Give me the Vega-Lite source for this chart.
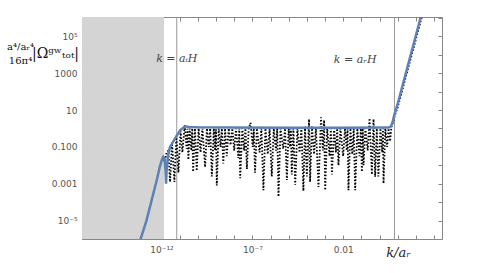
{
  "$schema": "https://vega.github.io/schema/vega-lite/v6.json",
  "width": 360,
  "height": 222,
  "autosize": {"type": "none"},
  "padding": {"left": 82, "top": 17, "right": 43, "bottom": 34},
  "background": "white",
  "config": {
    "view": {"stroke": "#888", "strokeWidth": 1},
    "axis": {"domain": false, "grid": false, "tickColor": "#888", "tickSize": -4, "labelFont": "DejaVu Sans", "labelFontSize": 9, "labelColor": "#555", "labelOverlap": false, "labelFlush": false}
  },
  "datasets": {
    "omega": [
      {"k": 5.62e-14, "v": 3.98e-7}, {"k": 7.08e-14, "v": 1e-6}, {"k": 1.51e-13, "v": 1.07e-5},
      {"k": 5.5e-13, "v": 0.00158}, {"k": 7.94e-13, "v": 0.00794}, {"k": 1.05e-12, "v": 0.02},
      {"k": 1.26e-12, "v": 0.0282}, {"k": 1.48e-12, "v": 0.0224}, {"k": 1.66e-12, "v": 0.00501},
      {"k": 1.78e-12, "v": 0.001}, {"k": 1.91e-12, "v": 0.00501}, {"k": 2.24e-12, "v": 0.0316},
      {"k": 2.95e-12, "v": 0.1}, {"k": 5.5e-12, "v": 0.282}, {"k": 1.05e-11, "v": 0.794},
      {"k": 2.0e-11, "v": 1.32}, {"k": 3.16e-11, "v": 1.2}, {"k": 1e-10, "v": 1.15},
      {"k": 1e-8, "v": 1.12}, {"k": 1e-5, "v": 1.1}, {"k": 0.01, "v": 1.1},
      {"k": 3.16, "v": 1.12}, {"k": 4.17, "v": 1.26}, {"k": 5.25, "v": 2.24},
      {"k": 6.46, "v": 5.25}, {"k": 9.55, "v": 18.2}, {"k": 190.5, "v": 1.2e6}, {"k": 354.8, "v": 1.26e7}
    ],
    "partial": [
      {"k": 1.2e-12, "v": 0.0316}, {"k": 1.48e-12, "v": 0.0158}, {"k": 1.91e-12, "v": 0.05}, {"k": 2.4e-12, "v": 0.063},
      {"k": 2.95e-12, "v": 0.00126}, {"k": 3.8e-12, "v": 0.158}, {"k": 5.13e-12, "v": 0.00126}, {"k": 6.6e-12, "v": 0.398},
      {"k": 8.5e-12, "v": 0.00398}, {"k": 1.12e-11, "v": 0.708}, {"k": 1.41e-11, "v": 0.05}, {"k": 1.9e-11, "v": 1.58},
      {"k": 2.4e-11, "v": 0.079}, {"k": 2.69e-11, "v": 0.955}, {"k": 3.02e-11, "v": 0.02}, {"k": 3.55e-11, "v": 1.0},
      {"k": 4.37e-11, "v": 0.063}, {"k": 4.9e-11, "v": 1.0}, {"k": 5.5e-11, "v": 0.00447}, {"k": 6.92e-11, "v": 1.0},
      {"k": 8.71e-11, "v": 0.005}, {"k": 1.1e-10, "v": 1.0}, {"k": 1.41e-10, "v": 0.05}, {"k": 1.78e-10, "v": 1.0},
      {"k": 2.51e-10, "v": 0.00794}, {"k": 3.16e-10, "v": 1.0}, {"k": 3.98e-10, "v": 0.1}, {"k": 4.79e-10, "v": 1.0},
      {"k": 5.89e-10, "v": 0.0025}, {"k": 7.59e-10, "v": 1.0}, {"k": 8.91e-10, "v": 0.063}, {"k": 1e-9, "v": 0.89},
      {"k": 1.1e-9, "v": 0.000794}, {"k": 1.41e-9, "v": 1.0}, {"k": 1.78e-9, "v": 0.1}, {"k": 2.09e-9, "v": 1.0},
      {"k": 2.51e-9, "v": 0.0126}, {"k": 3.16e-9, "v": 1.0}, {"k": 3.89e-9, "v": 0.0316}, {"k": 5.01e-9, "v": 1.0},
      {"k": 6.31e-9, "v": 0.126}, {"k": 7.94e-9, "v": 1.0}, {"k": 1e-8, "v": 0.063}, {"k": 1.26e-8, "v": 1.0},
      {"k": 1.7e-8, "v": 0.025}, {"k": 1.91e-8, "v": 1.0}, {"k": 2.14e-8, "v": 0.002}, {"k": 2.82e-8, "v": 1.0},
      {"k": 3.55e-8, "v": 0.063}, {"k": 4.17e-8, "v": 1.0}, {"k": 5.01e-8, "v": 0.00631}, {"k": 6.31e-8, "v": 1.0},
      {"k": 7.94e-8, "v": 2.0}, {"k": 1.05e-7, "v": 0.1}, {"k": 1.2e-7, "v": 1.0}, {"k": 1.41e-7, "v": 0.00398},
      {"k": 1.78e-7, "v": 1.0}, {"k": 2.51e-7, "v": 0.05}, {"k": 3.16e-7, "v": 1.0}, {"k": 4.07e-7, "v": 0.000447},
      {"k": 5.25e-7, "v": 1.0}, {"k": 7.08e-7, "v": 0.04}, {"k": 8.91e-7, "v": 1.0}, {"k": 1.17e-6, "v": 0.0025},
      {"k": 1.51e-6, "v": 1.0}, {"k": 2.0e-6, "v": 0.063}, {"k": 2.34e-6, "v": 1.0}, {"k": 2.75e-6, "v": 0.0002},
      {"k": 3.55e-6, "v": 1.0}, {"k": 5.01e-6, "v": 0.079}, {"k": 6.31e-6, "v": 1.0}, {"k": 7.94e-6, "v": 0.00158},
      {"k": 1e-5, "v": 1.0}, {"k": 1.2e-5, "v": 0.1}, {"k": 1.32e-5, "v": 1.0}, {"k": 1.48e-5, "v": 0.00316},
      {"k": 1.82e-5, "v": 1.0}, {"k": 2.29e-5, "v": 0.00085}, {"k": 3.02e-5, "v": 1.0}, {"k": 3.98e-5, "v": 0.05},
      {"k": 5.01e-5, "v": 1.12}, {"k": 6.46e-5, "v": 0.000398}, {"k": 7.94e-5, "v": 1.26}, {"k": 1e-4, "v": 0.0025},
      {"k": 1.32e-4, "v": 3.16}, {"k": 1.51e-4, "v": 0.00126}, {"k": 1.91e-4, "v": 1.26}, {"k": 2.51e-4, "v": 0.04},
      {"k": 3.16e-4, "v": 1.0}, {"k": 4.37e-4, "v": 0.000676}, {"k": 6.03e-4, "v": 3.98}, {"k": 7.59e-4, "v": 0.063},
      {"k": 8.91e-4, "v": 2.82}, {"k": 1.02e-3, "v": 0.000447}, {"k": 1.32e-3, "v": 1.0}, {"k": 1.78e-3, "v": 0.0316},
      {"k": 2.09e-3, "v": 1.0}, {"k": 2.4e-3, "v": 0.00316}, {"k": 3.16e-3, "v": 1.0}, {"k": 3.98e-3, "v": 0.05},
      {"k": 4.68e-3, "v": 1.0}, {"k": 5.5e-3, "v": 0.01}, {"k": 7.08e-3, "v": 1.0}, {"k": 0.01, "v": 0.0316},
      {"k": 0.0126, "v": 1.0}, {"k": 0.0158, "v": 0.063}, {"k": 0.0174, "v": 1.0}, {"k": 0.0195, "v": 0.000447},
      {"k": 0.0251, "v": 1.0}, {"k": 0.0316, "v": 0.04}, {"k": 0.038, "v": 1.0}, {"k": 0.0457, "v": 0.000447},
      {"k": 0.0603, "v": 1.0}, {"k": 0.0794, "v": 0.0316}, {"k": 0.0933, "v": 1.0}, {"k": 0.107, "v": 0.00447},
      {"k": 0.12, "v": 1.0}, {"k": 0.132, "v": 0.01}, {"k": 0.166, "v": 1.0}, {"k": 0.224, "v": 0.063},
      {"k": 0.282, "v": 3.55}, {"k": 0.38, "v": 0.00316}, {"k": 0.468, "v": 3.16}, {"k": 0.575, "v": 0.0024},
      {"k": 0.708, "v": 1.0}, {"k": 0.871, "v": 0.0025}, {"k": 1.12, "v": 1.0}, {"k": 1.41, "v": 0.05},
      {"k": 1.55, "v": 1.0}, {"k": 1.66, "v": 0.00105}, {"k": 2.09, "v": 1.0}, {"k": 2.63, "v": 0.1},
      {"k": 3.16, "v": 1.0}, {"k": 3.8, "v": 0.2}, {"k": 4.57, "v": 1.26}, {"k": 5.62, "v": 2.24},
      {"k": 6.92, "v": 5.01}, {"k": 10, "v": 14.1}, {"k": 199.5, "v": 8.9e5}, {"k": 354.8, "v": 7.9e6}
    ],
    "region": [{"k": 4.2e-17, "k2": 1.37e-12}],
    "lines": [{"k": 6.9e-12}, {"k": 6.7}],
    "notes": [
      {"k": 6.9e-12, "v": 5600, "label": "k = aᵢH"},
      {"k": 0.046, "v": 5000, "label": "k = aᵣH"}
    ]
  },
  "layer": [
    {
      "data": {"name": "region"},
      "mark": {"type": "rect", "color": "#d4d4d4", "clip": true},
      "encoding": {
        "x": {"field": "k", "type": "quantitative", "scale": {"type": "log", "domain": [4.2e-17, 2750], "nice": false}, "axis": null},
        "x2": {"field": "k2"}
      }
    },
    {
      "data": {"name": "lines"},
      "mark": {"type": "rule", "color": "#999", "strokeWidth": 1},
      "encoding": {
        "x": {"field": "k", "type": "quantitative", "scale": {"type": "log", "domain": [4.2e-17, 2750], "nice": false}, "axis": null}
      }
    },
    {
      "data": {"name": "partial"},
      "mark": {"type": "line", "color": "black", "strokeWidth": 1.8, "strokeDash": [1.5, 1.8], "clip": true},
      "encoding": {
        "x": {"field": "k", "type": "quantitative", "scale": {"type": "log", "domain": [4.2e-17, 2750], "nice": false},
          "axis": {"orient": "top", "values": [1e-16, 1e-15, 1e-14, 1e-13, 1e-12, 1e-11, 1e-10, 1e-9, 1e-8, 1e-7, 1e-6, 1e-5, 1e-4, 1e-3, 0.01, 0.1, 1, 10, 100, 1000], "labels": false, "title": null}},
        "y": {"field": "v", "type": "quantitative", "scale": {"type": "log", "domain": [1e-6, 1.12e6], "nice": false},
          "axis": {"orient": "right", "values": [1e-6, 1e-5, 1e-4, 1e-3, 0.01, 0.1, 1, 10, 100, 1000, 1e4, 1e5, 1e6], "labels": false,
            "title": "|Ωᵍʷₜₒₜ|", "titleAngle": 0, "titleX": -387, "titleY": 36, "titleAlign": "center", "titleBaseline": "middle",
            "titleFont": "DejaVu Serif", "titleFontSize": 14, "titleFontWeight": "normal", "titleColor": "#111"}}
      }
    },
    {
      "data": {"name": "omega"},
      "mark": {"type": "line", "color": "#5E81B5", "strokeWidth": 2.5, "clip": true},
      "encoding": {
        "x": {"field": "k", "type": "quantitative", "scale": {"type": "log", "domain": [4.2e-17, 2750], "nice": false},
          "axis": {"orient": "bottom", "values": [1e-16, 1e-15, 1e-14, 1e-13, 1e-12, 1e-11, 1e-10, 1e-9, 1e-8, 1e-7, 1e-6, 1e-5, 1e-4, 1e-3, 0.01, 0.1, 1, 10, 100, 1000],
            "labelExpr": "round(log(datum.value)/LN10) == -12 ? '10⁻¹²' : round(log(datum.value)/LN10) == -7 ? '10⁻⁷' : round(log(datum.value)/LN10) == -2 ? '0.01' : ''",
            "labelPadding": 10,
            "title": "k/aᵣ", "titleX": 316, "titleY": 13, "titleAlign": "center", "titleBaseline": "middle",
            "titleFont": "DejaVu Serif", "titleFontStyle": "italic", "titleFontSize": 13, "titleFontWeight": "normal", "titleColor": "#222"}},
        "y": {"field": "v", "type": "quantitative", "scale": {"type": "log", "domain": [1e-6, 1.12e6], "nice": false},
          "axis": {"orient": "left", "values": [1e-6, 1e-5, 1e-4, 1e-3, 0.01, 0.1, 1, 10, 100, 1000, 1e4, 1e5, 1e6],
            "labelExpr": "round(log(datum.value)/LN10) == -5 ? '10⁻⁵' : round(log(datum.value)/LN10) == -3 ? '0.001' : round(log(datum.value)/LN10) == -1 ? '0.100' : round(log(datum.value)/LN10) == 1 ? '10' : round(log(datum.value)/LN10) == 3 ? '1000' : round(log(datum.value)/LN10) == 5 ? '10⁵' : ''",
            "labelPadding": 9,
            "title": ["a⁴/aᵣ⁴", "16π⁴"], "titleAngle": 0, "titleX": -62, "titleY": 24, "titleAlign": "center", "titleBaseline": "top", "titleLineHeight": 14,
            "titleFont": "DejaVu Serif", "titleFontSize": 10, "titleFontWeight": "normal", "titleColor": "#111"}}
      }
    },
    {
      "data": {"name": "notes"},
      "mark": {"type": "text", "font": "DejaVu Serif", "fontStyle": "italic", "fontSize": 11, "color": "#444", "align": "center", "baseline": "middle"},
      "encoding": {
        "x": {"field": "k", "type": "quantitative", "scale": {"type": "log", "domain": [4.2e-17, 2750], "nice": false}, "axis": null},
        "y": {"field": "v", "type": "quantitative", "scale": {"type": "log", "domain": [1e-6, 1.12e6], "nice": false}, "axis": null},
        "text": {"field": "label"}
      }
    }
  ],
  "resolve": {"axis": {"x": "independent", "y": "independent"}}
}
